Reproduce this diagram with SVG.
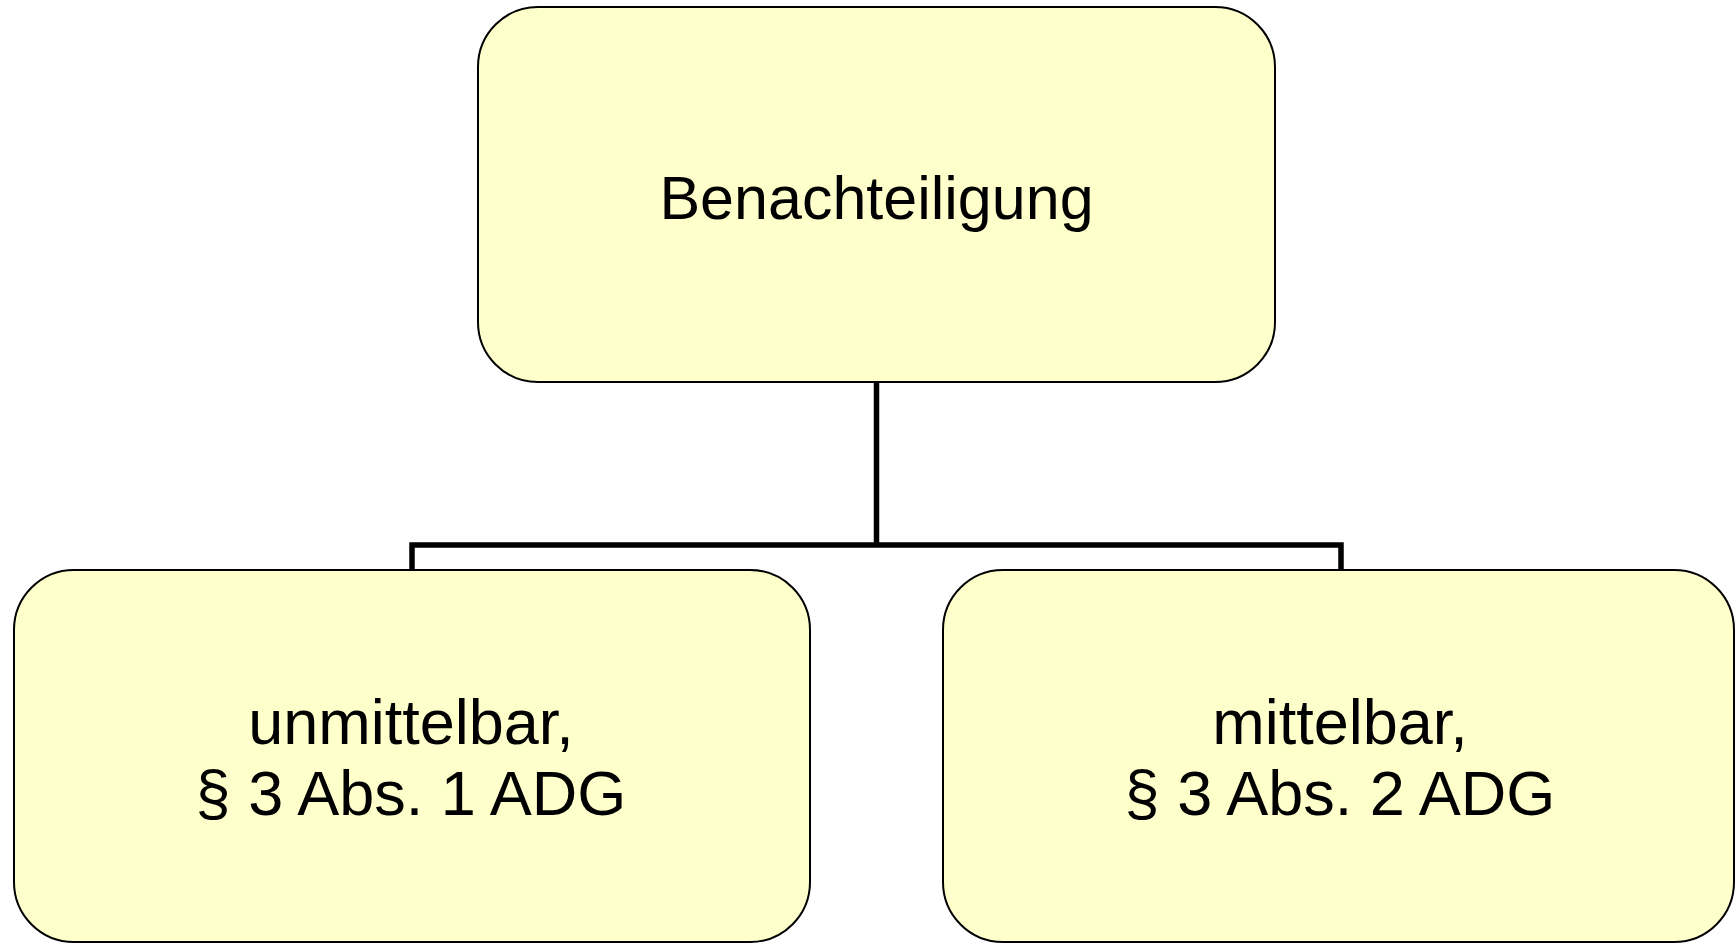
<svg xmlns="http://www.w3.org/2000/svg" width="1735" height="943" viewBox="0 0 1735 943">
<style>
.box{fill:#FFFFCC;stroke:#000;stroke-width:2}
.lbl{font-family:"Liberation Sans",Arial,sans-serif;font-size:61px;fill:#000;text-anchor:middle}
.sub{font-size:63px}
.conn{fill:none;stroke:#000;stroke-width:5.5}
</style>
<rect width="1735" height="943" fill="#fff"/>
<g id="connectors">
<path class="conn" d="M876.5 382 V545 M412 570 V545 H1341 V570"/>
</g>
<g id="node-top">
<rect class="box" x="478" y="7" width="797" height="375" rx="60" ry="60"/>
<text class="lbl" x="876.5" y="219">Benachteiligung</text>
</g>
<g id="node-left">
<rect class="box" x="14" y="570" width="796" height="372" rx="60" ry="60"/>
<text class="lbl sub" x="411" y="744">unmittelbar,</text>
<text class="lbl sub" x="411" y="815">§ 3 Abs. 1 ADG</text>
</g>
<g id="node-right">
<rect class="box" x="943" y="570" width="791" height="372" rx="60" ry="60"/>
<text class="lbl sub" x="1340" y="744">mittelbar,</text>
<text class="lbl sub" x="1340" y="815">§ 3 Abs. 2 ADG</text>
</g>
</svg>
